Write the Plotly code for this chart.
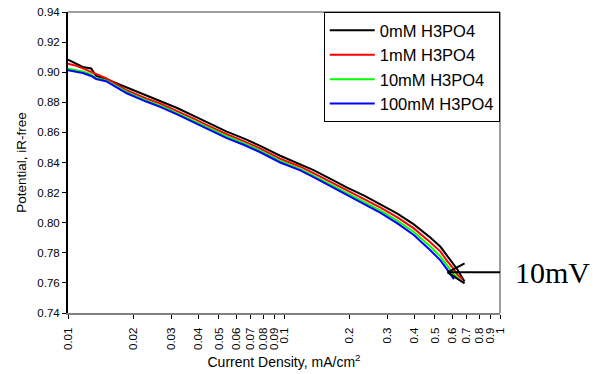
import plotly.graph_objects as go

# Current density (mA/cm^2) sampling points
x_common = [0.01, 0.0108, 0.0117, 0.0128, 0.0135, 0.0150, 0.0187, 0.0230, 0.0267,
            0.0320, 0.0380, 0.0450, 0.0543, 0.0650, 0.0776, 0.0960, 0.119, 0.137,
            0.165, 0.196, 0.235, 0.280, 0.335, 0.399, 0.477, 0.530, 0.570]

x_0mM = x_common + [0.605, 0.635, 0.685]
y_0mM = [0.9083, 0.9062, 0.9035, 0.9025, 0.8975, 0.8955, 0.8900, 0.8845, 0.8811,
         0.8762, 0.8711, 0.8660, 0.8605, 0.8560, 0.8511, 0.8445, 0.8389, 0.8349,
         0.8290, 0.8233, 0.8180, 0.8123, 0.8060, 0.7989, 0.7900, 0.7840, 0.7778,
         0.7735, 0.7689, 0.7610]

x_1mM = x_common + [0.605, 0.635, 0.670]
y_1mM = [0.9056, 0.9045, 0.9025, 0.9000, 0.8985, 0.8960, 0.8880, 0.8825, 0.8792,
         0.8742, 0.8693, 0.8642, 0.8588, 0.8542, 0.8493, 0.8425, 0.8372, 0.8330,
         0.8270, 0.8212, 0.8158, 0.8100, 0.8035, 0.7962, 0.7868, 0.7808, 0.7745,
         0.7700, 0.7655, 0.7625]

x_10mM = x_common + [0.605, 0.645]
y_10mM = [0.9023, 0.9015, 0.9005, 0.8985, 0.8960, 0.8945, 0.8868, 0.8812, 0.8778,
          0.8728, 0.8678, 0.8628, 0.8573, 0.8528, 0.8478, 0.8410, 0.8356, 0.8313,
          0.8252, 0.8195, 0.8138, 0.8080, 0.8012, 0.7938, 0.7840, 0.7775, 0.7715,
          0.7665, 0.7625]

x_100mM = x_common + [0.612]
y_100mM = [0.9013, 0.9003, 0.8995, 0.8975, 0.8955, 0.8940, 0.8860, 0.8805, 0.8770,
           0.8720, 0.8670, 0.8618, 0.8562, 0.8518, 0.8468, 0.8400, 0.8348, 0.8303,
           0.8240, 0.8182, 0.8125, 0.8065, 0.7995, 0.7918, 0.7815, 0.7750, 0.7688,
           0.7625]

series_names = ["0mM H3PO4", "1mM H3PO4", "10mM H3PO4", "100mM H3PO4"]
series_colors = ["#000000", "#ff0000", "#00ff00", "#0000ff"]

x_tick_vals = [0.01, 0.02, 0.03, 0.04, 0.05, 0.06, 0.07, 0.08, 0.09,
               0.1, 0.2, 0.3, 0.4, 0.5, 0.6, 0.7, 0.8, 0.9, 1]
x_tick_text = ["0.01", "0.02", "0.03", "0.04", "0.05", "0.06", "0.07", "0.08", "0.09",
               "0.1", "0.2", "0.3", "0.4", "0.5", "0.6", "0.7", "0.8", "0.9", "1"]

arrow_tip = (0.572, 0.767)
arrow_label = "10mV"

FONT = "Liberation Sans, Arial, sans-serif"

fig = go.Figure()
for xs, ys, name, col in zip([x_0mM, x_1mM, x_10mM, x_100mM],
                             [y_0mM, y_1mM, y_10mM, y_100mM],
                             series_names, series_colors):
    fig.add_trace(go.Scatter(x=xs, y=ys, mode="lines", name=name,
                             line=dict(color=col, width=2)))

fig.update_layout(
    width=596, height=374,
    margin=dict(l=68, r=96, t=12, b=61, autoexpand=False),
    paper_bgcolor="white", plot_bgcolor="white",
    font=dict(family=FONT, size=12, color="black"),
    showlegend=True,
    legend=dict(x=0.592, y=1.0, xanchor="left", yanchor="top",
                bgcolor="white", bordercolor="black", borderwidth=1,
                font=dict(family=FONT, size=16.5, color="black"),
                tracegroupgap=0, itemwidth=45),
)

fig.update_xaxes(
    type="log", range=[-2, 0], automargin=False,
    tickvals=x_tick_vals, ticktext=x_tick_text, tickangle=-90,
    ticks="outside", ticklen=4, tickwidth=1, tickcolor="black",
    ticklabelstandoff=4,
    showline=True, linecolor="#808080", linewidth=2,
    showgrid=False, zeroline=False,
    tickfont=dict(family=FONT, size=11.5),
    title=dict(text="Current Density, mA/cm<sup>2</sup>", font=dict(family=FONT, size=14), standoff=8),
)
fig.update_yaxes(
    range=[0.74, 0.94], dtick=0.02, tickformat=".2f", automargin=False,
    ticks="outside", ticklen=4, tickwidth=1, tickcolor="black",
    showline=True, linecolor="black", linewidth=2,
    showgrid=False, zeroline=False,
    tickfont=dict(family=FONT, size=11.5),
    title=dict(text="Potential, iR-free", font=dict(family=FONT, size=13.5), standoff=8),
)

# top and right frame lines (grey)
fig.add_shape(type="line", xref="paper", yref="paper", x0=0, x1=1, y0=1, y1=1,
              line=dict(color="#808080", width=1.5))
fig.add_shape(type="line", xref="paper", yref="paper", x0=1, x1=1, y0=0, y1=1,
              line=dict(color="#808080", width=1.5))

# arrow (shaft + open head) anchored at the tip, pixel-sized
for (dx0, dy0, dx1, dy1) in [(0, 0, 63, 0), (0, 0, 17, 9), (0, 0, 17, -11)]:
    fig.add_shape(type="line", xref="x", yref="y",
                  xsizemode="pixel", ysizemode="pixel",
                  xanchor=arrow_tip[0], yanchor=arrow_tip[1],
                  x0=dx0, x1=dx1, y0=dy0, y1=dy1,
                  line=dict(color="black", width=2))

fig.add_annotation(x=1.03, y=arrow_tip[1], xref="paper", yref="y",
                   text=arrow_label, showarrow=False, xanchor="left", yanchor="middle",
                   font=dict(family="Liberation Serif, Times New Roman, serif", size=30, color="black"))

fig.write_html("out.html", config={"displayModeBar": False},
               post_script="document.body.style.margin='0';document.body.style.overflow='hidden';")
